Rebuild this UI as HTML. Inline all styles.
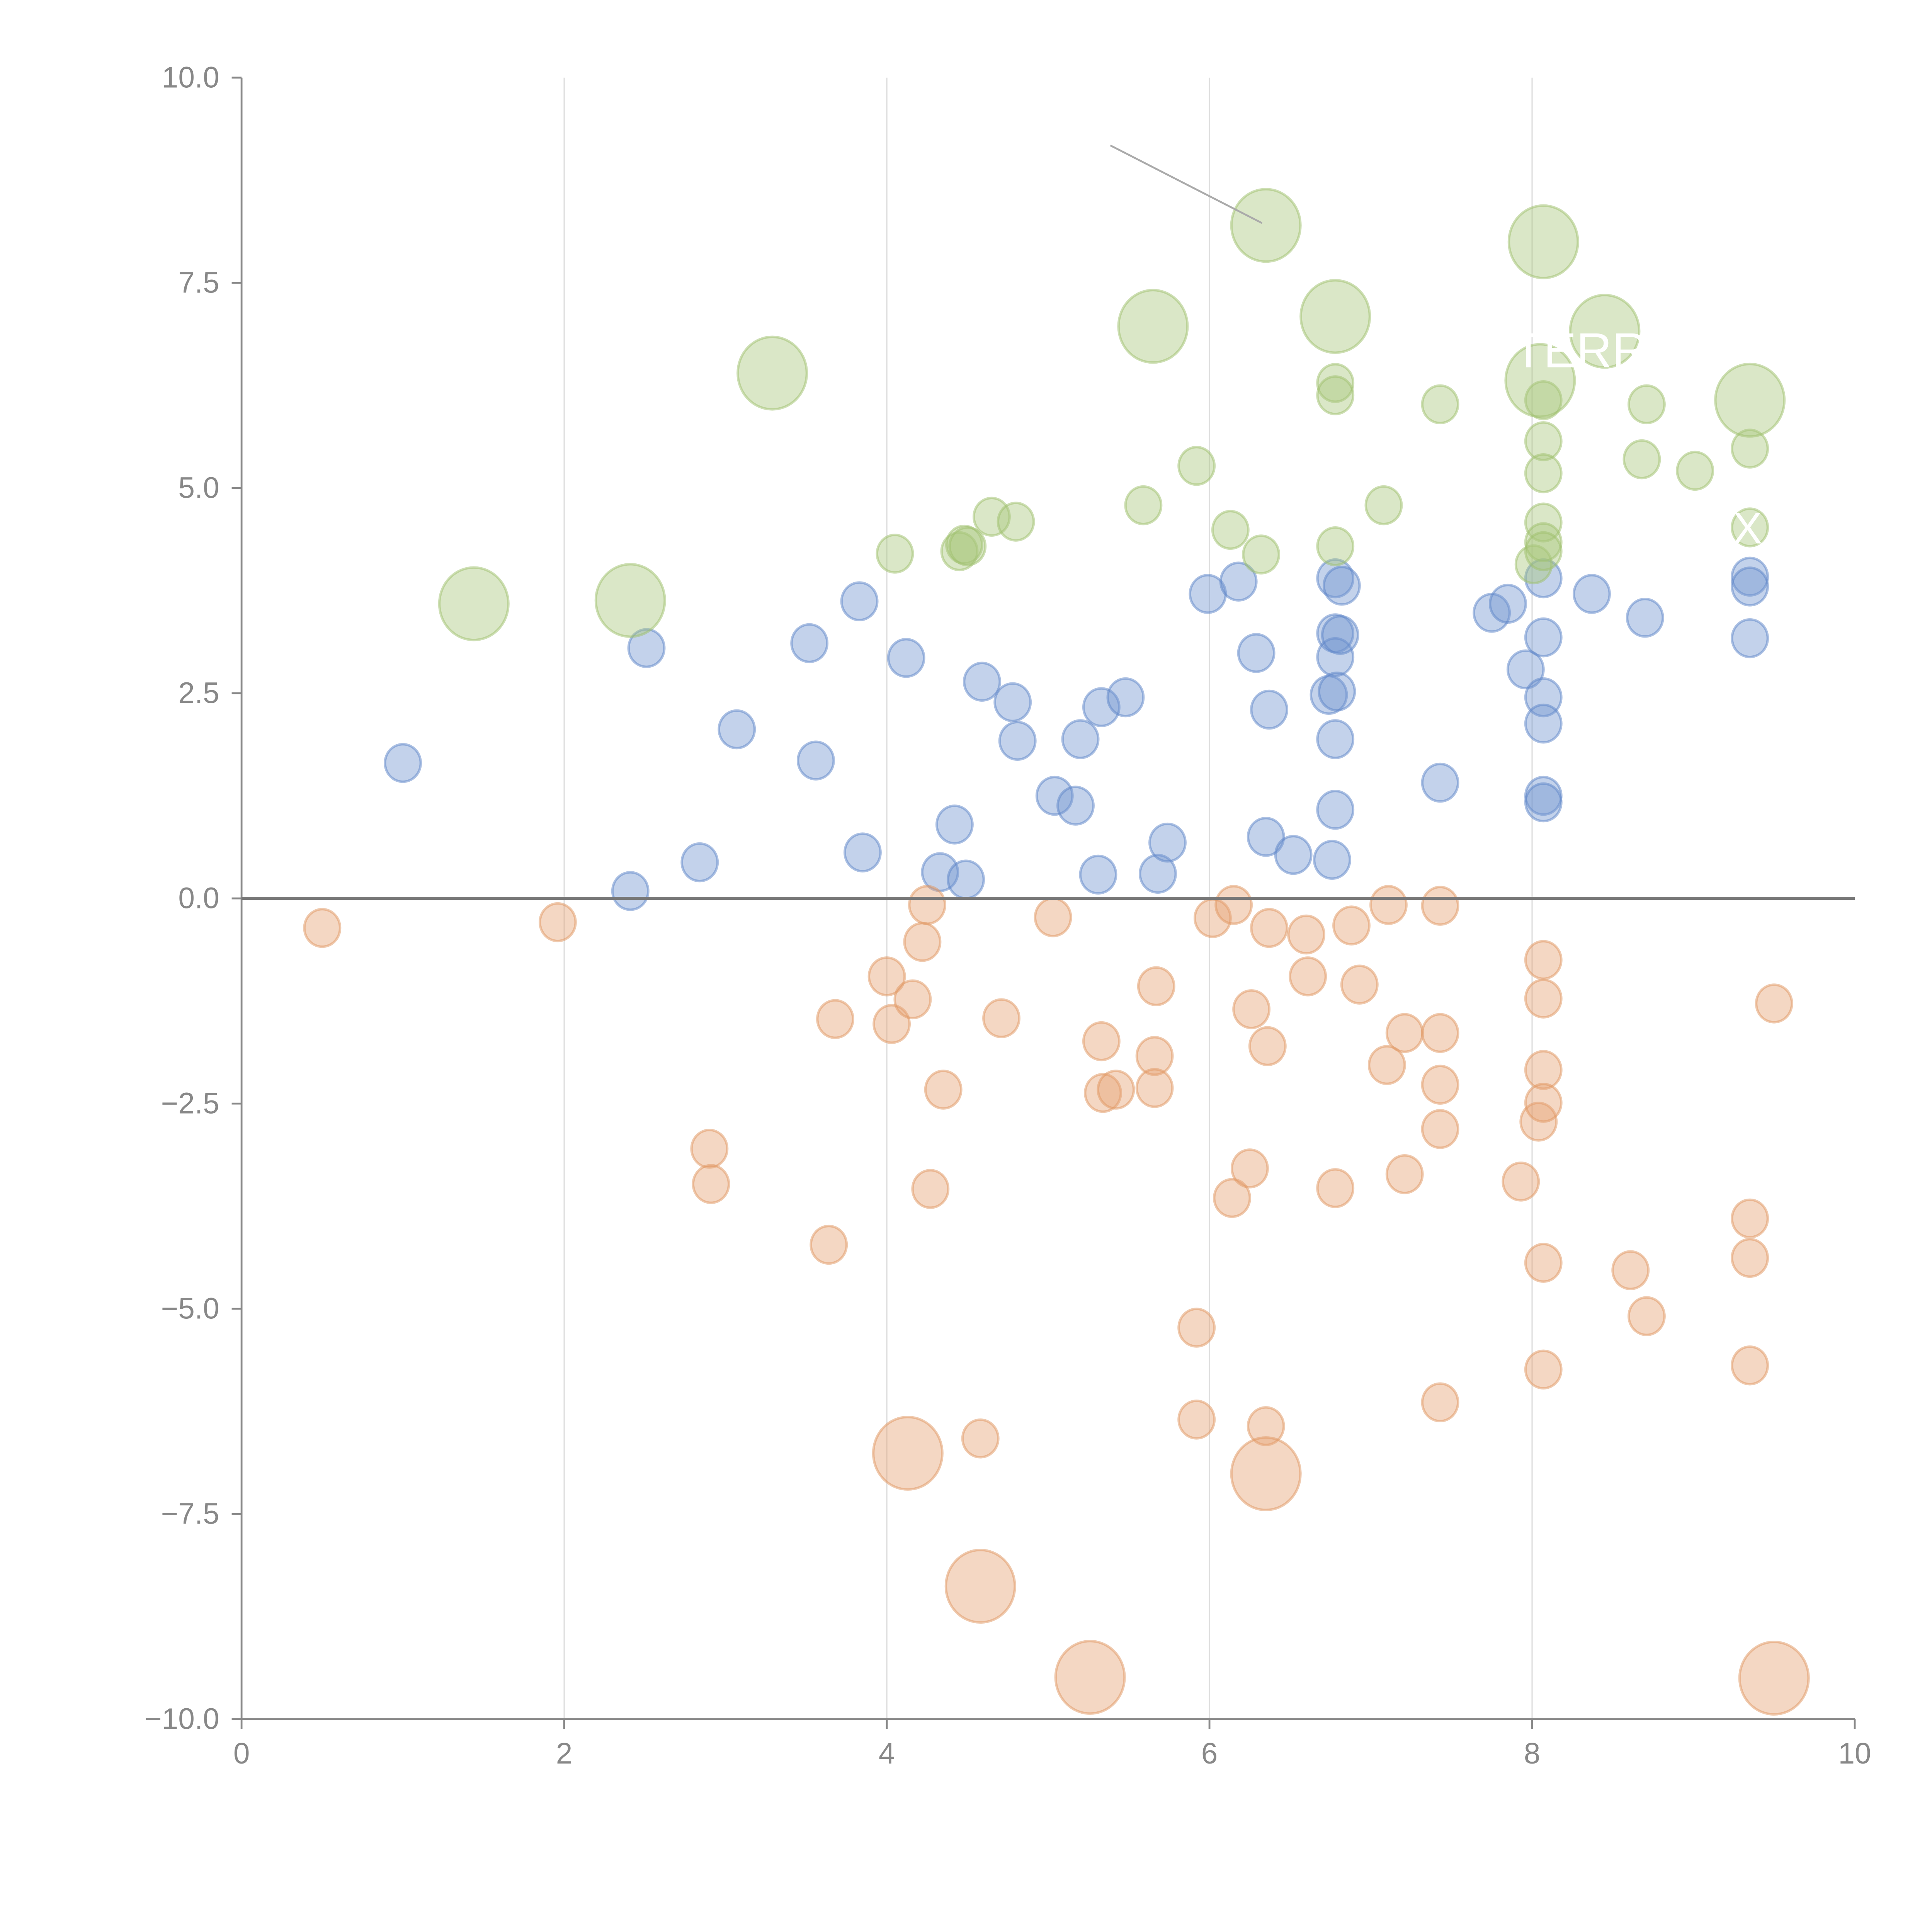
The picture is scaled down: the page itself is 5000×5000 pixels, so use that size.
<!DOCTYPE html>
<html><head><meta charset="utf-8"><style>html,body{margin:0;padding:0;background:#fff}svg{display:block}</style></head>
<body>
<svg id="chart" width="5000" height="5000" viewBox="0 0 1567.7 1567.7" xmlns="http://www.w3.org/2000/svg" font-family="'Liberation Sans', sans-serif">
<g id="grid"></g>
<g id="axes"></g>
<g id="marks"></g>
<g id="notes"></g>
</svg>
<script>
const xTicks=[0,2,4,6,8,10];
const yTicks=[10,7.5,5,2.5,0,-2.5,-5,-7.5,-10];
const yTickLabels=["10.0","7.5","5.0","2.5","0.0","\u22122.5","\u22125.0","\u22127.5","\u221210.0"];
const blueX=[1.0,2.41,2.51,2.84,3.07,3.52,3.56,3.83,3.85,4.12,4.33,4.42,4.49,4.59,4.78,4.81,5.04,5.17,5.20,5.31,5.33,5.48,5.68,5.74,5.99,6.18,6.29,6.35,6.37,6.52,6.74,6.76,6.78,6.78,6.78,6.78,6.78,6.81,6.82,6.79,7.43,7.75,7.85,7.96,8.07,8.07,8.07,8.07,8.07,8.07,8.37,8.70,9.35,9.35,9.35];
const blueY=[1.65,0.09,3.05,0.44,2.06,3.11,1.68,3.62,0.56,2.93,0.32,0.90,0.23,2.64,2.39,1.92,1.25,1.13,1.94,0.29,2.33,2.45,0.30,0.68,3.71,3.86,2.99,0.75,2.30,0.53,2.48,0.47,3.90,3.23,2.94,1.94,1.08,3.21,3.81,2.52,1.41,3.48,3.59,2.79,3.90,3.18,2.45,2.13,1.25,1.17,3.71,3.42,3.92,3.80,3.17];
const greenX=[4.05,4.45,4.48,4.50,4.65,4.80,5.59,5.92,6.13,6.32,6.78,6.78,6.78,7.08,7.43,8.01,8.07,8.07,8.07,8.07,8.07,8.07,8.68,8.71,9.01,9.35,9.35];
const greenY=[4.20,4.23,4.31,4.29,4.65,4.59,4.79,5.27,4.49,4.19,6.28,6.13,4.29,4.79,6.02,4.07,6.07,5.57,5.18,4.58,4.34,4.23,5.35,6.02,5.21,5.48,4.52];
const greenBigX=[1.44,2.41,3.29,5.65,6.35,6.78,8.07,8.45,8.05,9.35];
const greenBigY=[3.59,3.63,6.40,6.97,8.20,7.09,8.00,6.91,6.31,6.07];
const orangeX=[0.50,1.96,2.90,2.91,3.64,3.68,4.00,4.03,4.16,4.22,4.25,4.27,4.35,4.58,4.71,5.03,5.33,5.34,5.42,5.66,5.66,5.67,5.92,5.92,6.02,6.14,6.15,6.25,6.26,6.35,6.36,6.37,6.60,6.61,6.78,6.88,6.93,7.10,7.11,7.21,7.21,7.43,7.43,7.43,7.43,7.43,7.93,8.04,8.07,8.07,8.07,8.07,8.07,8.07,8.61,8.71,9.35,9.35,9.35,9.50];
const orangeY=[-0.36,-0.29,-3.05,-3.48,-4.22,-1.47,-0.95,-1.53,-1.23,-0.53,-0.08,-3.54,-2.33,-6.58,-1.46,-0.23,-1.74,-2.37,-2.33,-1.92,-2.31,-1.07,-5.23,-6.35,-0.24,-3.65,-0.08,-3.29,-1.35,-6.43,-1.80,-0.36,-0.44,-0.95,-3.53,-0.33,-1.05,-2.03,-0.08,-1.64,-3.36,-0.09,-1.64,-2.27,-2.81,-6.14,-3.45,-2.72,-0.75,-1.22,-2.09,-2.49,-4.44,-5.74,-4.53,-5.09,-3.90,-4.38,-5.69,-1.28];
const orangeBigX=[4.13,4.58,5.26,6.35,9.50];
const orangeBigY=[-6.76,-8.38,-9.49,-7.01,-9.50];

const NS="http://www.w3.org/2000/svg";
const X0=196,X1=1505,Y0=1395,Y1=63;
function sx(v){return X0+(v-0)/(10-0)*(X1-X0);}
function sy(v){return Y0-(v+10)/20*(Y0-Y1);}
function mk(tag,attrs,parent){const e=document.createElementNS(NS,tag);for(const k in attrs)e.setAttribute(k,attrs[k]);parent.appendChild(e);return e;}
const grid=document.getElementById('grid'),axes=document.getElementById('axes'),marks=document.getElementById('marks'),notes=document.getElementById('notes');
xTicks.forEach(t=>{
  if(t>0&&t<10){const l=mk('line',{x1:sx(t),x2:sx(t),y1:Y1,y2:Y0,stroke:'#dddddd','stroke-width':1},grid);
  
  }
  const tk=mk('line',{x1:sx(t),x2:sx(t),y1:Y0,y2:Y0+8,stroke:'#888','stroke-width':1.5},axes);
  
  
  const tx=mk('text',{x:sx(t),y:Y0+36,'font-size':24,fill:'#888','text-anchor':'middle'},axes);
  tx.textContent=String(t);
  
  
});
yTicks.forEach((t,i)=>{
  const tk=mk('line',{x1:X0-8,x2:X0,y1:sy(t),y2:sy(t),stroke:'#888','stroke-width':1.5},axes);
  
  
  const tx=mk('text',{x:X0-18,y:sy(t)+8,'font-size':24,fill:'#888','text-anchor':'end'},axes);
  tx.textContent=yTickLabels[i];
  
  
});
let a=mk('line',{x1:X0,x2:X0,y1:Y1,y2:Y0,stroke:'#888','stroke-width':1.5},axes);


a=mk('line',{x1:X0,x2:X1,y1:Y0,y2:Y0,stroke:'#888','stroke-width':1.5},axes);


function series(xs,ys,r,fill,stroke,name){
  xs.forEach((x,i)=>{
    const c=mk('ellipse',{cx:sx(x),cy:sy(ys[i]),rx:r,ry:r*1.05,fill:fill,'fill-opacity':0.42,stroke:stroke,'stroke-opacity':0.5,'stroke-width':2},marks);
    
    
  });
}
series(blueX,blueY,14.5,'#6f93cf','#5b84c8','bubble-blue');
series(greenX,greenY,14.5,'#a6c57a','#9dc06b','bubble-green');
series(greenBigX,greenBigY,28,'#a6c57a','#9dc06b','bubble-green-large');
series(orangeX,orangeY,14.5,'#e4a070','#e09560','bubble-orange');
series(orangeBigX,orangeBigY,28,'#e4a070','#e09560','bubble-orange-large');
let z=mk('line',{x1:X0,x2:X1,y1:sy(0),y2:sy(0),stroke:'#777','stroke-width':2.5},notes);


let an=mk('line',{x1:901,y1:118,x2:1024,y2:181,stroke:'#aaa','stroke-width':1.5},notes);


let t1=mk('text',{x:1228,y:298,'font-size':40,fill:'#fff'},notes);
t1.textContent='TERR';


let t2=mk('text',{x:1406,y:441,'font-size':36,fill:'#fff'},notes);
t2.textContent='X';


</script>
</body></html>
